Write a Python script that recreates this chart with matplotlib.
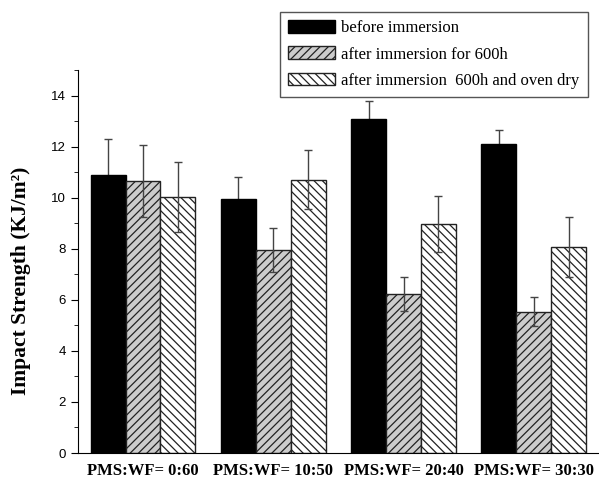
import numpy as np
import matplotlib.pyplot as plt
from matplotlib.ticker import MultipleLocator

# data
groups = ['PMS:WF= 0:60', 'PMS:WF= 10:50', 'PMS:WF= 20:40', 'PMS:WF= 30:30']
labels = ['before immersion', 'after immersion for 600h',
          'after immersion  600h and oven dry']
before = [10.88, 9.95, 13.09, 12.09]
before_err = [1.40, 0.87, 0.68, 0.55]
immersed = [10.65, 7.96, 6.23, 5.54]
immersed_err = [1.40, 0.87, 0.66, 0.55]
dried = [10.02, 10.70, 8.97, 8.06]
dried_err = [1.36, 1.15, 1.09, 1.17]

serif = ['Liberation Serif', 'DejaVu Serif']
plt.rcParams['hatch.linewidth'] = 0.9
fig = plt.figure(figsize=(5.99, 4.78), dpi=100)
ax = fig.add_axes([0.130, 0.0523, 0.870, 0.8013])

x = np.arange(1, len(groups) + 1)
w = 0.268
err_kw = dict(ecolor='#444444', elinewidth=1.0, capsize=3, capthick=1.0)

# black bars hide the lower half of their error bars
ax.bar(x - w, before, w, yerr=before_err, color='black', edgecolor='black',
       linewidth=1.0, label=labels[0], error_kw=dict(err_kw, zorder=0.5))
ax.bar(x, immersed, w, yerr=immersed_err, color='#cccccc', edgecolor='#222222',
       linewidth=1.0, hatch='////', label=labels[1], error_kw=err_kw)
ax.bar(x + w, dried, w, yerr=dried_err, color='white', edgecolor='#222222',
       linewidth=1.0, hatch='\\\\\\\\', label=labels[2], error_kw=err_kw)

ax.set_xlim(0.5, 4.5)
ax.set_ylim(0, 15)
ax.yaxis.set_major_locator(MultipleLocator(2))
ax.yaxis.set_minor_locator(MultipleLocator(1))
ax.set_xticks(x)
ax.set_xticklabels(groups, family=serif, fontweight='bold', fontsize=12)
ax.tick_params(axis='x', length=0, pad=7)
ax.tick_params(axis='y', which='major', length=5, labelsize=9.5)
ax.tick_params(axis='y', which='minor', length=3)
for t in ax.get_yticklabels():
    t.set_family('Liberation Sans')

ax.spines['top'].set_visible(False)
ax.spines['right'].set_visible(False)

ax.set_ylabel('Impact Strength (KJ/m²)', family=serif, fontweight='bold',
              fontsize=15.5)
ax.yaxis.set_label_coords(-0.09, 0.45)

leg = ax.legend(loc='upper left', bbox_to_anchor=(0.467, 0.975),
                bbox_transform=fig.transFigure, borderaxespad=0,
                prop={'family': serif, 'size': 12}, fancybox=False,
                edgecolor='#555555', framealpha=1, handlelength=2.8,
                handleheight=0.8, labelspacing=0.6, handletextpad=0.4,
                borderpad=0.5)
leg.get_frame().set_linewidth(1.0)

fig.savefig('out.png', dpi=100)
